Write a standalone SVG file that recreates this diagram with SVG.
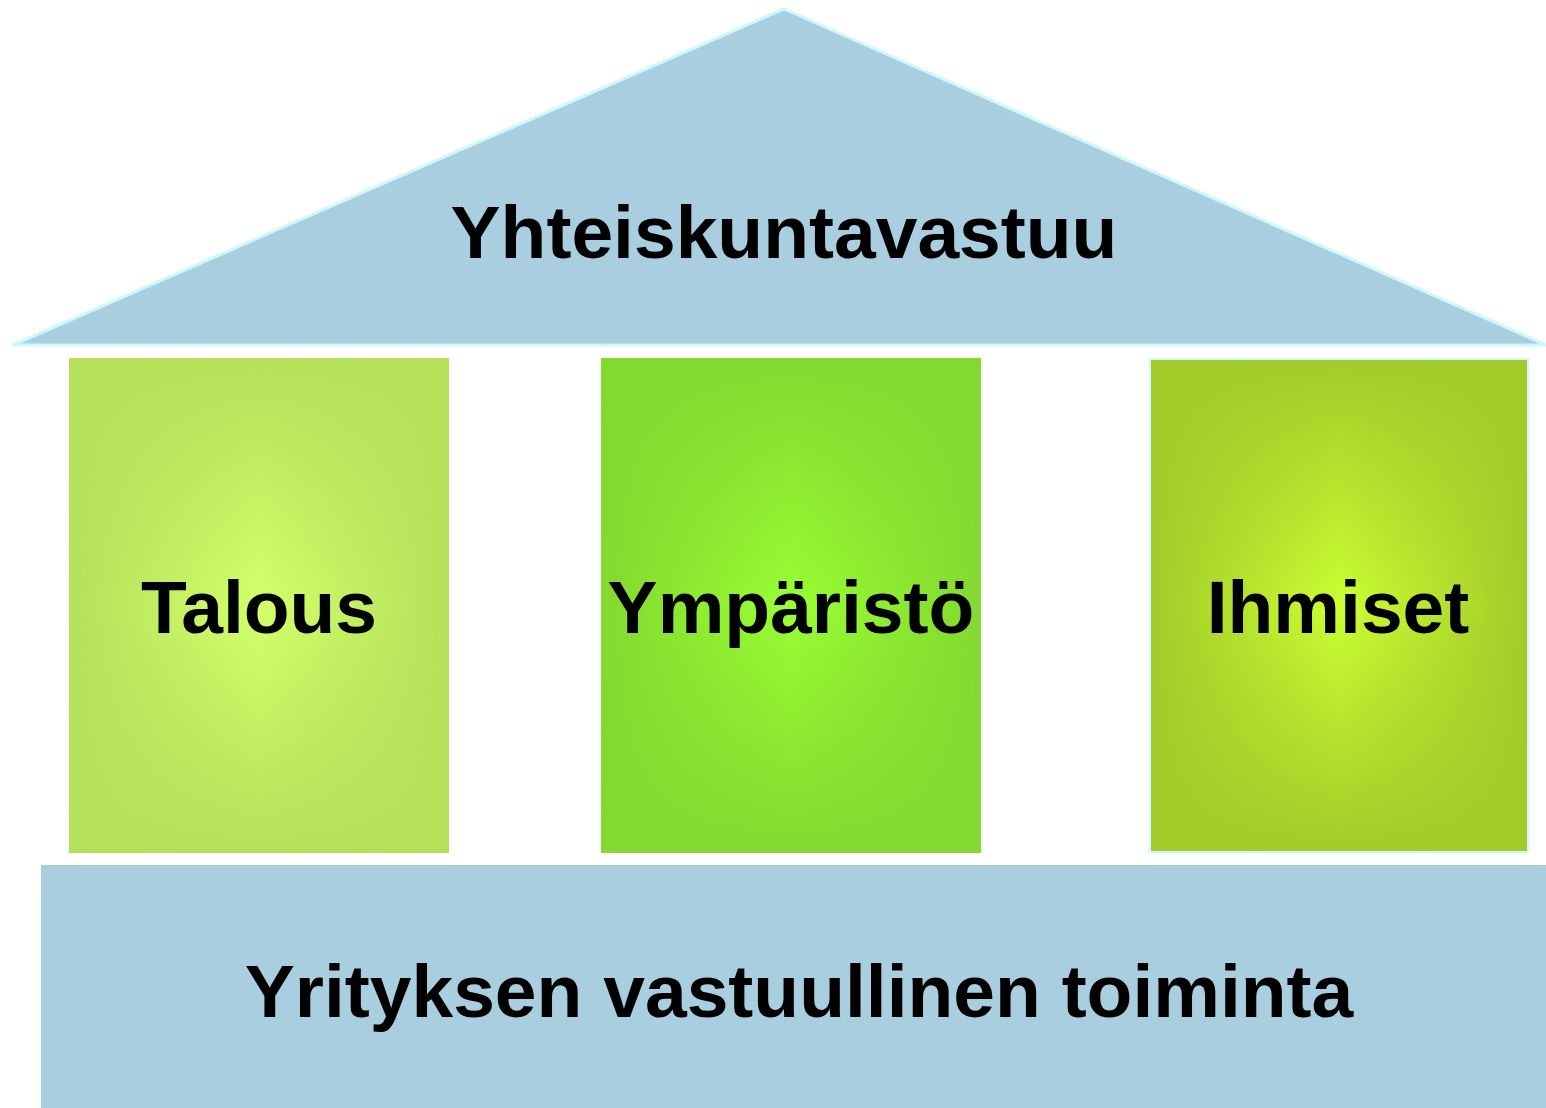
<svg xmlns="http://www.w3.org/2000/svg" width="1546" height="1108" viewBox="0 0 1546 1108">
<style>
.t{font-family:"Liberation Sans",Arial,sans-serif;font-weight:bold;font-size:75px;fill:#000;text-anchor:middle}
.blue{fill:#a8cee0}
</style>
<defs>
<linearGradient id="vg" x1="0" y1="0" x2="0" y2="1">
<stop offset="0" stop-color="#fff" stop-opacity="0"/>
<stop offset="0.25" stop-color="#fff" stop-opacity="0.5"/>
<stop offset="0.5" stop-color="#fff" stop-opacity="1"/>
<stop offset="0.75" stop-color="#fff" stop-opacity="0.5"/>
<stop offset="1" stop-color="#fff" stop-opacity="0"/>
</linearGradient>
<mask id="m1" maskContentUnits="objectBoundingBox"><rect x="0" y="0" width="1" height="1" fill="url(#vg)"/></mask>
<linearGradient id="g1" x1="0" y1="0" x2="1" y2="0">
<stop offset="0" stop-color="#d4ff6c" stop-opacity="0"/>
<stop offset="0.5" stop-color="#d4ff6c"/>
<stop offset="1" stop-color="#d4ff6c" stop-opacity="0"/>
</linearGradient>
<linearGradient id="g2" x1="0" y1="0" x2="1" y2="0">
<stop offset="0" stop-color="#99ff33" stop-opacity="0"/>
<stop offset="0.5" stop-color="#99ff33"/>
<stop offset="1" stop-color="#99ff33" stop-opacity="0"/>
</linearGradient>
<linearGradient id="g3" x1="0" y1="0" x2="1" y2="0">
<stop offset="0" stop-color="#ccff33" stop-opacity="0"/>
<stop offset="0.5" stop-color="#ccff33"/>
<stop offset="1" stop-color="#ccff33" stop-opacity="0"/>
</linearGradient>
</defs>
<g id="roof">
<polygon points="13,345 784,9 1546,345" class="blue" stroke="#ccf8fa" stroke-width="3" stroke-linejoin="round"/>
<text class="t" x="784" y="258">Yhteiskuntavastuu</text>
</g>
<g id="talous">
<rect x="69" y="358" width="380" height="495" fill="#b5e15a"/>
<rect x="69" y="358" width="380" height="495" fill="url(#g1)" mask="url(#m1)"/>
<text class="t" x="259" y="633">Talous</text>
</g>
<g id="ymparisto">
<rect x="601" y="358" width="380" height="495" fill="#84d930"/>
<rect x="601" y="358" width="380" height="495" fill="url(#g2)" mask="url(#m1)"/>
<text class="t" x="791" y="633">Ympäristö</text>
</g>
<g id="ihmiset">
<rect x="1150" y="359" width="378" height="493" fill="#a3cb2a" stroke="#ccf8fa" stroke-width="2"/>
<rect x="1151" y="360" width="376" height="491" fill="url(#g3)" mask="url(#m1)"/>
<text class="t" x="1338" y="633">Ihmiset</text>
</g>
<g id="base">
<rect x="41" y="865" width="1505" height="243" class="blue"/>
<text class="t" x="799" y="1017">Yrityksen vastuullinen toiminta</text>
</g>
<g id="connectors"/>
</svg>
